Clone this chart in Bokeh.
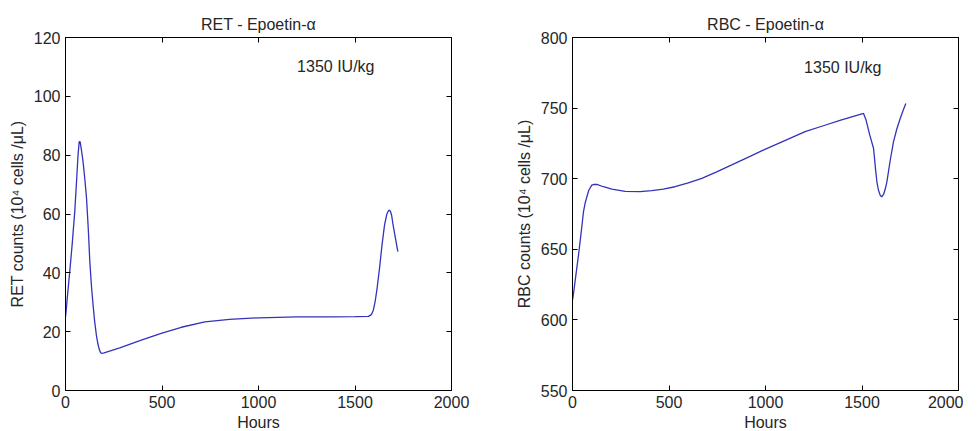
from bokeh.plotting import figure
from bokeh.models import LinearAxis, Range1d, Label, FixedTicker
from bokeh.layouts import row
from bokeh.embed import file_html
from bokeh.resources import INLINE

# ---- data ----
ret_hours = [0, 3, 10, 22, 35, 48, 58, 65, 71, 76, 82, 91, 100, 109, 118, 126, 135, 143, 151,
             160, 168, 175, 181, 188, 200, 281, 400, 500, 600, 722, 850, 1000, 1200, 1380, 1500,
             1570, 1585, 1595, 1605, 1615, 1627, 1640, 1653, 1665, 1675, 1683, 1690, 1696, 1709,
             1722]
ret_values = [25, 26.8, 32, 40.4, 50, 60.8, 72, 80, 84.6, 84.5, 82, 77.8, 72, 65.3, 55, 43.8,
              35, 29, 23.5, 18.8, 15.8, 14.0, 12.9, 12.6, 12.8, 14.5, 17.3, 19.5, 21.5, 23.3,
              24.2, 24.7, 25.0, 25.0, 25.1, 25.2, 25.8, 27.3, 30.5, 35, 41.5, 49.5, 56.2, 60,
              61.3, 61, 59.5, 56.8, 52, 47.2]

rbc_hours = [0, 3, 15, 31, 45, 57, 66, 74, 85, 100, 112, 126, 160, 204, 273, 350, 411, 470,
             531, 600, 670, 750, 842, 920, 997, 1100, 1205, 1300, 1394, 1460, 1508, 1520, 1540,
             1560, 1570, 1577, 1585, 1595, 1603, 1612, 1620, 1629, 1645, 1663, 1680, 1698, 1712,
             1727]
rbc_values = [614, 616.4, 629, 645.8, 662, 676.6, 683, 687, 692, 695.4, 696, 695.9, 694.3,
              692.6, 691, 690.8, 691.5, 692.6, 694.3, 697, 700.2, 705, 710.8, 715.8, 720.8, 727,
              733.3, 737.5, 741.6, 744.3, 746.2, 742, 731, 721.4, 707, 697.8, 692, 688, 687.2,
              689, 692.5, 697.8, 712, 726.1, 735, 742.6, 748, 753.3]

x_ticks = [0, 500, 1000, 1500, 2000]
ret_ticks = [0, 20, 40, 60, 80, 100, 120]
rbc_ticks = [550, 600, 650, 700, 750, 800]

titles = ["RET - Epoetin-\u03b1", "RBC - Epoetin-\u03b1"]
y_labels = ["RET counts (10\u2074 cells /\u03bcL)", "RBC counts (10\u2074 cells /\u03bcL)"]
x_label = "Hours"
dose_text = "1350 IU/kg"

FONT = "Liberation Sans"
TXT = "#262626"
LINE = "#3333bb"


def make_plot(hours, vals, yr, yticks, title, ylabel, label_y, border_left, border_right):
    p = figure(frame_width=386, frame_height=353, output_backend="svg", toolbar_location=None,
               x_range=Range1d(0, 2000), y_range=Range1d(*yr),
               min_border_left=border_left, min_border_right=border_right,
               min_border_top=37, min_border_bottom=30)
    p.title.text = title
    p.title.align = "center"
    p.title.text_font = FONT
    p.title.text_font_size = "16px"
    p.title.text_font_style = "normal"
    p.title.text_color = TXT
    p.title.standoff = 10
    p.xgrid.visible = False
    p.ygrid.visible = False
    p.outline_line_color = "black"
    p.outline_line_alpha = 1
    p.background_fill_color = "white"
    p.border_fill_color = "white"

    for ax, ticks in ((p.xaxis[0], x_ticks), (p.yaxis[0], yticks)):
        ax.ticker = FixedTicker(ticks=ticks)
        ax.major_tick_in = 5
        ax.major_tick_out = 0
        ax.minor_tick_line_color = None
        ax.axis_line_color = "black"
        ax.major_tick_line_color = "black"
        ax.major_label_text_font = FONT
        ax.major_label_text_font_size = "16px"
        ax.major_label_text_color = TXT
        ax.axis_label_text_font = FONT
        ax.axis_label_text_font_size = "16px"
        ax.axis_label_text_font_style = "normal"
        ax.axis_label_text_color = TXT
    p.xaxis[0].axis_label = x_label
    p.xaxis[0].major_label_standoff = 5
    p.xaxis[0].axis_label_standoff = 3
    p.yaxis[0].axis_label = ylabel
    p.yaxis[0].major_label_standoff = 5
    p.yaxis[0].axis_label_standoff = 5

    # box ticks on top and right (no labels)
    for loc, ticks in (("above", x_ticks), ("right", yticks)):
        ax = LinearAxis(ticker=FixedTicker(ticks=ticks), major_tick_in=5, major_tick_out=0,
                        minor_tick_line_color=None, major_label_text_font_size="1px",
                        major_label_text_color=None,
                        major_label_standoff=0, axis_line_color="black")
        p.add_layout(ax, loc)

    p.line(hours, vals, line_color=LINE, line_width=1.3)
    p.add_layout(Label(x=1200, y=label_y, text=dose_text, text_font=FONT,
                       text_font_size="16px", text_color=TXT, text_baseline="middle",
                       text_align="left"))
    return p


p1 = make_plot(ret_hours, ret_values, (0, 120), ret_ticks, titles[0], y_labels[0], 110, 65, 20)
p2 = make_plot(rbc_hours, rbc_values, (550, 800), rbc_ticks, titles[1], y_labels[1], 779, 101, 5)

layout = row(p1, p2, spacing=0)
open("out.html", "w").write(file_html(layout, INLINE))
